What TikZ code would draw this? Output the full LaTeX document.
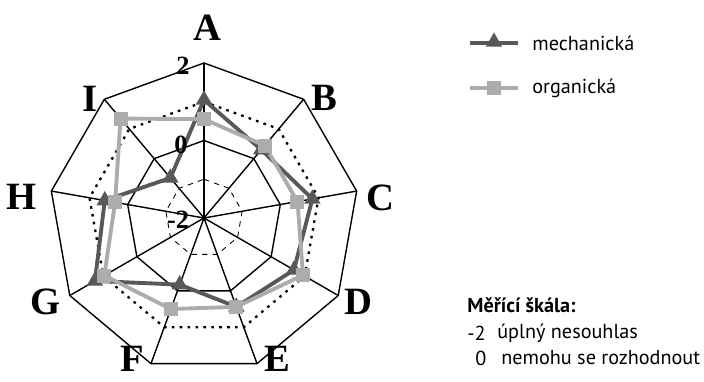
\documentclass[tikz,border=0pt]{standalone}
\usepackage{fontspec}
\setmainfont{Liberation Serif}
\newfontfamily\legendfont{PT Sans}
\usetikzlibrary{shapes.geometric}

\definecolor{mechgray}{RGB}{88,88,88}
\definecolor{orggray}{RGB}{172,172,172}

\tikzset{
  grid/.style={draw=black, line width=0.8pt},
  dottedring/.style={draw=black, line width=1.3pt, dash pattern=on 1.5pt off 3pt},
  dashedring/.style={draw=black, line width=0.5pt, dash pattern=on 3pt off 3pt},
  axislabel/.style={font=\bfseries\fontsize{22}{22}\selectfont, inner sep=0pt},
  scalelabel/.style={font=\bfseries\fontsize{15}{15}\selectfont, inner sep=0pt},
  legendtext/.style={font=\legendfont\fontsize{11.5}{13}\selectfont, anchor=west, inner sep=0pt},
  mechline/.style={draw=mechgray, line width=2.2pt, line join=round},
  orgline/.style={draw=orggray, line width=2.2pt, line join=round},
  mechmark/.style={regular polygon, regular polygon sides=3, fill=mechgray, inner sep=0pt, minimum size=0.38cm},
  orgmark/.style={rectangle, fill=orggray, inner sep=0pt, minimum size=0.28cm},
}

\begin{document}
\begin{tikzpicture}[x=0.02cm, y=0.02cm]
    \useasboundingbox (0,0) rectangle (704,382);
    \coordinate (O) at (204,164);

    % grid rings and spokes
    \begin{scope}[shift={(O)}]
        \foreach \r/\sty in {155/grid, 77.5/grid, 116.25/dottedring, 38.75/dashedring}
            \draw[\sty] (90:\r) \foreach \k in {1,...,8} {-- ({90-40*\k}:\r)} -- cycle;
        \foreach \k in {0,...,8}
            \draw[grid] (0,0) -- ({90-40*\k}:155);

        % data points
        \foreach \v [count=\k from 0] in {1.05,0.3,0.84,0.68,0.44,-0.17,1.25,0.6,-0.65}
            \coordinate (m\k) at ({90-40*\k}:{(\v+2)*38.75});
        \foreach \v [count=\k from 0] in {0.55,0.44,0.45,0.95,0.44,0.5,0.97,0.33,1.35}
            \coordinate (o\k) at ({90-40*\k}:{(\v+2)*38.75});
    \end{scope}

    \draw[mechline] (m0) -- (m1) -- (m2) -- (m3) -- (m4) -- (m5) -- (m6) -- (m7) -- (m8) -- cycle;
    \draw[orgline] (o0) -- (o1) -- (o2) -- (o3) -- (o4) -- (o5) -- (o6) -- (o7) -- (o8) -- cycle;
    \foreach \k in {0,...,8}
        \node[mechmark] (mm\k) at (m\k) {};
    \foreach \k in {0,...,8}
        \node[orgmark] (om\k) at (o\k) {};

    % axis labels
    \node[axislabel] (A) at (207,354) {A};
    \node[axislabel] (B) at (324,284) {B};
    \node[axislabel] (C) at (380,184) {C};
    \node[axislabel] (D) at (358,80) {D};
    \node[axislabel, anchor=base] (E) at (277,10) {E};
    \node[axislabel, anchor=base] (F) at (132,10) {F};
    \node[axislabel] (G) at (46,80) {G};
    \node[axislabel] (H) at (22,185) {H};
    \node[axislabel] (I) at (90,283) {I};

    % scale values
    \node[scalelabel] (s2) at (183,316) {2};
    \node[scalelabel] (s0) at (181,237) {0};
    \node[scalelabel] (sm2) at (178,162) {-2};

    % legend
    \coordinate (mechL) at (470,339);
    \coordinate (mechR) at (518,339);
    \draw[mechline] (mechL) -- (mechR);
    \node[mechmark] (mechkey) at (494,340) {};
    \node[legendtext] (mechtext) at (532,339) {mechanická};

    \coordinate (orgL) at (470,294);
    \coordinate (orgR) at (518,294);
    \draw[orgline] (orgL) -- (orgR);
    \node[orgmark] (orgkey) at (494,294) {};
    \node[legendtext] (orgtext) at (532,294) {organická};

    % measuring scale
    \node[legendtext, font=\legendfont\bfseries\fontsize{11.5}{13}\selectfont] (scaletitle) at (467,77) {Měřící škála:};
    \node[legendtext] (vm2) at (467,49) {-2};
    \node[legendtext] (tm2) at (497,49) {úplný nesouhlas};
    \node[legendtext] (v0) at (475,24) {0};
    \node[legendtext] (t0) at (501,24) {nemohu se rozhodnout};
\end{tikzpicture}
\end{document}
